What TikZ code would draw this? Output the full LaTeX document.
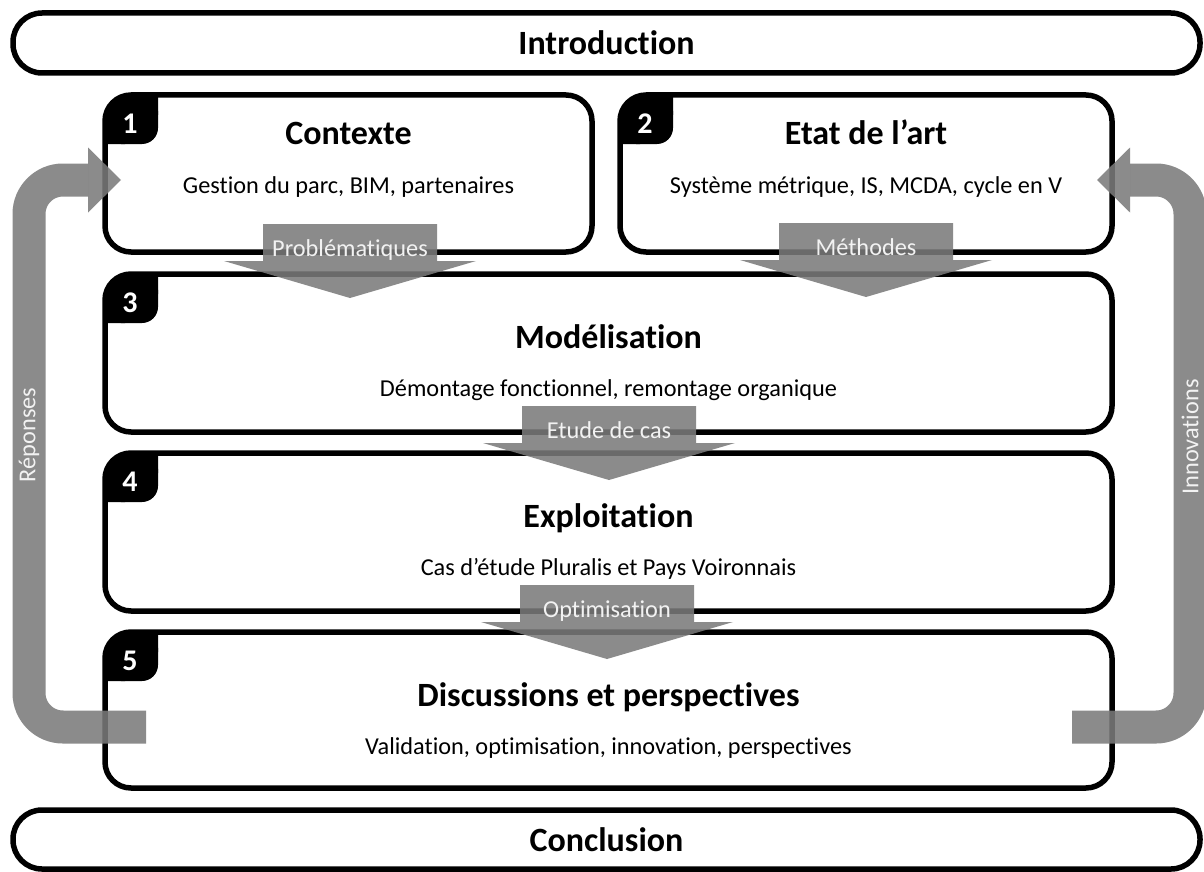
\documentclass[tikz,border=0pt]{standalone}
\usepackage{fontspec}
\setmainfont[Ligatures=NoCommon]{Carlito}
\usepackage{tikz}
\definecolor{flowgray}{RGB}{122,122,122}
\definecolor{labwhite}{RGB}{242,242,242}

\begin{document}
\begin{tikzpicture}[x=1pt, y=-1pt]
  \tikzstyle{stage}=[draw, line width=5.5pt, rounded corners=26pt, outer sep=0pt, inner sep=0pt, minimum height=157pt]
  \tikzstyle{pill}=[draw, line width=5.5pt, rounded corners=29pt, outer sep=0pt, minimum width=1187pt, minimum height=60pt, font=\bfseries\fontsize{34}{40}\selectfont]
  \tikzstyle{head}=[anchor=base, font=\bfseries\fontsize{34}{40}\selectfont]
  \tikzstyle{sub}=[anchor=base, font=\fontsize{24.3}{29}\selectfont]
  \tikzstyle{lab}=[sub, text=labwhite]
  \tikzstyle{num}=[anchor=base, text=white, font=\bfseries\fontsize{30}{36}\selectfont]
  \tikzstyle{flow}=[fill=flowgray, fill opacity=.87]
  \tikzstyle{band}=[draw=flowgray, draw opacity=.87, line width=33pt, rounded corners=34pt]

  \fill [white] (0,0) rectangle (1204,872);
  \useasboundingbox (0,0) rectangle (1204,872);

  \node [pill] (intro) at (606.5,43) {Introduction};
  \node [pill, minimum height=59pt] (concl) at (606.5,839.5) {Conclusion};

  \node [stage, minimum width=487pt] (b1) at (348.5,173.5) {};
  \node [stage, minimum width=492pt] (b2) at (866,173.5) {};
  \node [stage, minimum width=1007pt, minimum height=158pt] (b3) at (608.5,353) {};
  \node [stage, minimum width=1007pt, minimum height=158pt] (b4) at (608.5,532) {};
  \node [stage, minimum width=1007pt, minimum height=156pt] (b5) at (608.5,710) {};

  % number tabs
  \foreach \n in {1,...,5} {
    \begin{scope}
      \clip [rounded corners=26pt] (b\n.north west) rectangle (b\n.south east);
      \fill [rounded corners=16pt] (b\n.north west) rectangle ++(53,49);
      \fill (b\n.north west) rectangle ++(53,20) (b\n.north west) rectangle ++(20,49);
    \end{scope}
    \node [num] (n\n) at ([shift={(25,38)}]b\n.north west) {\n};
  }

  \node [head] (t1) at (348.5,145) {Contexte};
  \node [sub] (s1) at (348.5,193) {Gestion du parc, BIM, partenaires};
  \node [head] (t2) at (866,145) {Etat de l’art};
  \node [sub] (s2) at (866,193) {Système métrique, IS, MCDA, cycle en V};
  \node [head] (t3) at (608.5,348) {Modélisation};
  \node [sub] (s3) at (608.5,396) {Démontage fonctionnel, remontage organique};
  \node [head] (t4) at (608.5,527) {Exploitation};
  \node [sub] (s4) at (608.5,575) {Cas d’étude Pluralis et Pays Voironnais};
  \node [head] (t5) at (608.5,706) {Discussions et perspectives};
  \node [sub] (s5) at (608.5,754) {Validation, optimisation, innovation, perspectives};

  % down arrows between stages
  \foreach \x/\y/\t/\m in {350/224/Problématiques/pr, 866/223/Méthodes/me, 609/406/Etude de cas/ec, 607/585/Optimisation/op} {
    \fill [flow] (\x-87,\y) -- (\x+87,\y) -- (\x+87,\y+37) -- (\x+126,\y+37) -- (\x,\y+74) -- (\x-126,\y+37) -- (\x-87,\y+37) -- cycle;
    \node [lab] (\m) at (\x,\y+32) {\t};
  }

  % side loops
  \coordinate (ra) at (146,727);
  \coordinate (rb) at (88,180);
  \coordinate (rc) at (121,180);
  \draw [band] (ra) -| (29,450) |- (rb);
  \fill [flow] (88,147.5) -- (rc) -- (88,212.5) -- cycle;
  \node [lab, anchor=center, rotate=90] (rep) at (29,435) {Réponses};

  \coordinate (ia) at (1072,727);
  \coordinate (ib) at (1130,180);
  \coordinate (ic) at (1097,180);
  \draw [band] (ia) -| (1190,450) |- (ib);
  \fill [flow] (1130,147.5) -- (ic) -- (1130,212.5) -- cycle;
  \node [lab, anchor=center, rotate=90] (inn) at (1190,437) {Innovations};
\end{tikzpicture}
\end{document}
